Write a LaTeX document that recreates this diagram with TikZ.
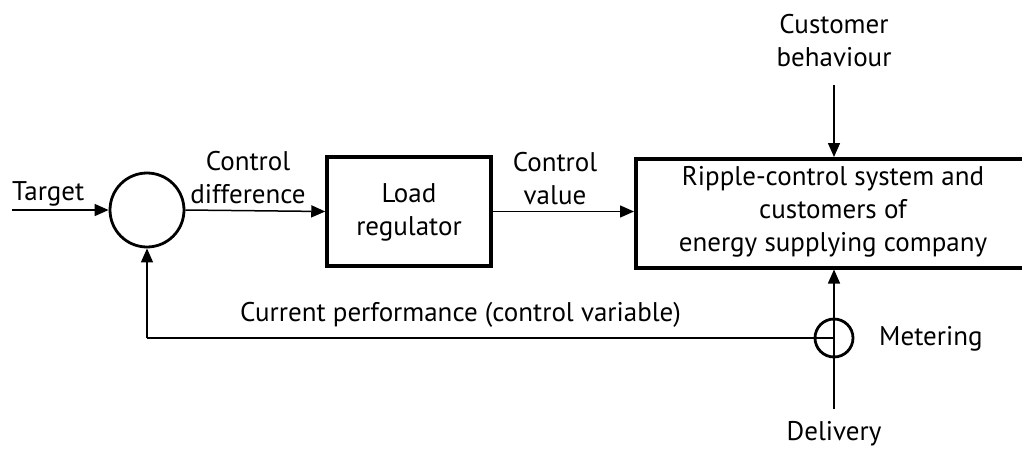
\documentclass[tikz,border=0pt]{standalone}
\usepackage{fontspec}
\setmainfont{PT Sans}
\usetikzlibrary{arrows.meta}
\begin{document}
\begin{tikzpicture}[x=1pt,y=-1pt,
  txt/.style={font=\fontsize{27}{33}\selectfont, inner sep=0pt, align=center},
  blk/.style={draw, line width=3.5pt, inner sep=0pt},
  sumc/.style={draw, circle, line width=2.8pt, inner sep=0pt},
  conn/.style={line width=1.5pt, -{Triangle[length=14pt,width=12pt]}},
  plain/.style={line width=1.5pt}]
\useasboundingbox (0,0) rectangle (1022,448);
% nodes
\node[sumc, minimum size=74pt] (sum) at (147,210) {};
\node[blk, minimum width=164pt, minimum height=109pt] (load) at (409,211.5) {};
\node[txt] at (409,212) {Load\\regulator};
\node[blk, minimum width=400pt, minimum height=109pt, anchor=north west] (sys) at (634,157) {};
\node[txt] at (833,212) {Ripple-control system and\\customers of\\energy supplying company};
\node[sumc, minimum size=38pt, line width=2.8pt] (meter) at (834,338) {};
% texts
\node[txt, anchor=west] (target) at (12,194) {Target};
\node[txt] (cdiff) at (248,178) {Control\\difference};
\node[txt] (cval) at (555,179) {Control\\value};
\node[txt] (cust) at (834,41) {Customer\\behaviour};
\node[txt, anchor=west] (mtxt) at (879,339) {Metering};
\node[txt] (deliv) at (834,434) {Delivery};
\node[txt, anchor=west] (perf) at (240,315) {Current performance (control variable)};
% coordinates
\coordinate (tin) at (12,210);
\coordinate (cin) at (834,85);
\coordinate (din) at (834,409);
\coordinate (fb) at (147,337);
% connectors
\draw[conn] (tin) -- (sum.west);
\draw[conn] (sum.east) -- (load.west);
\draw[conn] (load.east) -- (sys.west |- load.east);
\draw[conn] (cin) -- (cin |- sys.north);
\draw[conn] (din) -- (din |- sys.south);
\draw[plain] (meter.center) -- (meter.center -| fb);
\draw[conn] (meter.center -| fb) -- (sum.south);
\end{tikzpicture}
\end{document}
